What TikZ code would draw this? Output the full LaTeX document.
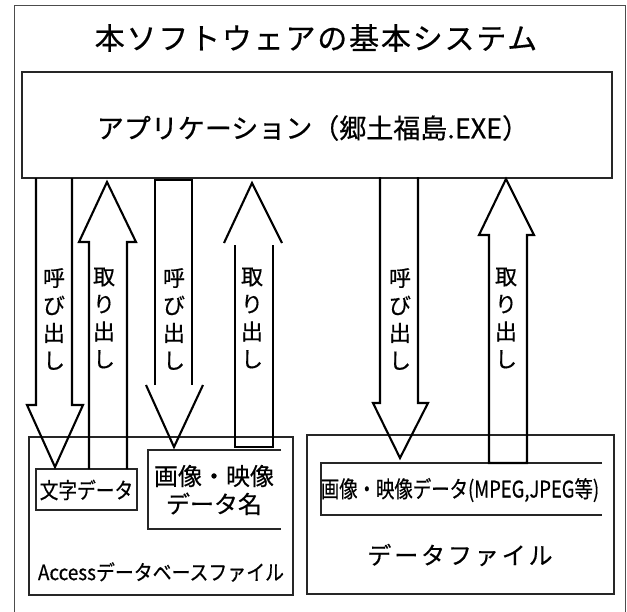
\documentclass[tikz,border=0pt]{standalone}
\usepackage{fontspec}
\usepackage{graphicx}
\setmainfont{Noto Sans CJK JP}[FakeBold=0.5]
\begin{document}
\begin{tikzpicture}[x=1pt,y=-1pt,
  frame/.style={draw=black!85,line width=1.2pt},
  arr/.style={draw=black,line width=2.1pt,line join=miter},
  vlab/.style={font=\fontsize{22}{27.5}\selectfont,align=center,inner sep=0pt},
  txt/.style={inner sep=0pt}]
\useasboundingbox (0,0) rectangle (627,611);
% outer frame
\draw[draw=black!70,line width=1pt] (14,615) -- (14,5) -- (625,5) -- (625,615);
\node[txt,font=\fontsize{30}{32}\selectfont\addfontfeature{LetterSpace=6}] (title) at (316,38) {本ソフトウェアの基本システム};
% application box
\node[frame,minimum width=590pt,minimum height=106pt,inner sep=0pt] (app) at (317,125) {};
\node[txt,font=\fontsize{27}{29}\selectfont] (apptxt) at (313,128) {アプリケーション（郷土福島.EXE）};
% access box
\node[frame,minimum width=264pt,minimum height=158pt,inner sep=0pt] (acc) at (161,516) {};
\node[frame,minimum width=101pt,minimum height=41pt,inner sep=0pt] (moji) at (86.5,489.5) {};
\node[txt,font=\fontsize{22}{24}\selectfont] (mojit) at (86.5,490) {\scalebox{0.85}[1]{文字データ}};
\coordinate (ga) at (148,450);
\coordinate (gb) at (281,529);
\draw[frame] (gb|-ga) -- (ga) -- (ga|-gb) -- (gb);
\node[txt,font=\fontsize{24}{28}\selectfont,align=center] (gazou) at (214,490) {画像・映像\\データ名};
\node[txt,font=\fontsize{21}{24}\selectfont] (acct) at (161,572) {\scalebox{0.9}[1]{Accessデータベースファイル}};
% data file box
\node[frame,minimum width=307pt,minimum height=159pt,inner sep=0pt] (df) at (460.5,514.5) {};
\coordinate (ma) at (321,463);
\coordinate (mb) at (602,515);
\draw[frame] (mb|-ma) -- (ma) -- (ma|-mb) -- (mb);
\node[txt,font=\fontsize{23}{25}\selectfont] (mpeg) at (460,490) {\scalebox{0.8}[1]{画像・映像データ(MPEG,JPEG等)}};
\node[txt,font=\fontsize{24}{26}\selectfont\addfontfeature{LetterSpace=12}] (dft) at (460,555) {データファイル};
% arrows
\draw[arr] (36,178) -- (36,405) -- (27,405) -- (55,467) -- (83,405) -- (72,405) -- (72,178);
\draw[arr] (89,469) -- (89,242) -- (79,242) -- (107,182) -- (136,242) -- (127,242) -- (127,469);
\draw[arr] (155,385) -- (155,180) -- (192,180) -- (192,385);
\draw[arr] (146,385) -- (174,447) -- (203,385);
\draw[arr] (224,243) -- (252,183) -- (282,243);
\draw[arr] (235,245) -- (235,447) -- (273,447) -- (273,245);
\draw[arr] (380,177) -- (380,403) -- (373,403) -- (400,458) -- (428,403) -- (418,403) -- (418,177);
\draw[arr] (527,463) -- (489,463) -- (489,235) -- (479,235) -- (506,179) -- (534,235) -- (527,235) -- cycle;
% labels
\node[vlab] (l1) at (54,319) {呼\\び\\出\\し};
\node[vlab] (l2) at (104,318) {取\\り\\出\\し};
\node[vlab] (l3) at (174,319) {呼\\び\\出\\し};
\node[vlab] (l4) at (252,318) {取\\り\\出\\し};
\node[vlab] (l5) at (400,319) {呼\\び\\出\\し};
\node[vlab] (l6) at (506,318) {取\\り\\出\\し};
\end{tikzpicture}
\end{document}
